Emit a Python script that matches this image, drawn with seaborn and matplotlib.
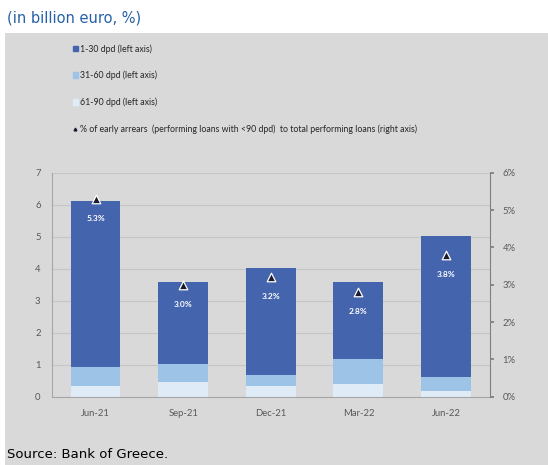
import matplotlib
matplotlib.use("Agg")
import matplotlib.pyplot as plt
import matplotlib.patches as mpatches
from matplotlib.lines import Line2D
from matplotlib.ticker import FuncFormatter
import numpy as np
import pandas as pd
import seaborn as sns

# Early arrears of performing loans by days past due (billion euro)
quarters = ["Jun-21", "Sep-21", "Dec-21", "Mar-22", "Jun-22"]
dpd_1_30 = [5.20, 2.55, 3.35, 2.38, 4.41]
dpd_31_60 = [0.60, 0.57, 0.33, 0.78, 0.43]
dpd_61_90 = [0.32, 0.45, 0.34, 0.41, 0.19]
# Share of early arrears in total performing loans (%)
early_arrears_pct = [5.3, 3.0, 3.2, 2.8, 3.8]

series_labels = ["1-30 dpd (left axis)", "31-60 dpd (left axis)", "61-90 dpd (left axis)",
                 "% of early arrears  (performing loans with <90 dpd)  to total performing loans (right axis)"]

c_dark = "#4464AE"
c_mid = "#9DC3E6"
c_light = "#DFEBF7"
panel = "#D9D9D9"
tick_col = "#595959"

sns.set_theme(style="white")
plt.rcParams["font.family"] = ["Lato", "DejaVu Sans"]

df = pd.DataFrame({"quarter": quarters, "d1": dpd_1_30, "d2": dpd_31_60, "d3": dpd_61_90,
                   "pct": early_arrears_pct})
df["top3"] = df["d3"]
df["top2"] = df["d3"] + df["d2"]
df["top1"] = df["top2"] + df["d1"]

fig = plt.figure(figsize=(5.48, 4.65), dpi=100)
fig.patch.set_facecolor("white")
fig.patches.append(mpatches.Rectangle((5 / 548, 0), 543 / 548, 1 - 33 / 465,
                                      transform=fig.transFigure, facecolor=panel,
                                      edgecolor="none", zorder=-10))

ax = fig.add_axes([0.0943, 0.1469, 0.7998, 0.4817])
ax.set_zorder(2)
ax.set_facecolor(panel)

# stacked bars: cumulative totals drawn back to front
w = 0.57
for col, colr in [("top1", c_dark), ("top2", c_mid), ("top3", c_light)]:
    sns.barplot(data=df, x="quarter", y=col, color=colr, width=w, saturation=1,
                linewidth=0, edgecolor="none", ax=ax, zorder=2)

ax.set_ylim(0, 7)
ax.set_xlim(-0.5, len(quarters) - 0.5)
ax.set_yticks(range(0, 8))
ax.set_xlabel("")
ax.set_ylabel("")
ax.yaxis.grid(True, color="#C6C6C6", linewidth=0.8, zorder=0)
ax.set_axisbelow(True)
for s in ["top", "right"]:
    ax.spines[s].set_visible(False)
for s in ["left", "bottom"]:
    ax.spines[s].set_color("#A6A6A6")
    ax.spines[s].set_linewidth(0.8)
ax.tick_params(axis="both", length=0, labelsize=6.8, labelcolor=tick_col, pad=8)
ax.tick_params(axis="x", pad=9)

ax2 = ax.twinx()
ax2.set_zorder(3)
ax2.set_ylim(0, 6)
ax2.set_yticks(range(0, 7))
ax2.yaxis.set_major_formatter(FuncFormatter(lambda v, p: f"{int(v)}%"))
sns.scatterplot(x=np.arange(len(quarters)), y=early_arrears_pct, marker="^", s=38,
                color="#1A1A2E", edgecolor="white", linewidth=0.9, ax=ax2, zorder=5, legend=False)
for i, v in enumerate(early_arrears_pct):
    ax2.annotate(f"{v:.1f}%", (i, v), xytext=(0, -14), textcoords="offset points",
                 ha="center", va="center", color="white", fontsize=6, fontweight="bold")
for s in ["top", "left", "bottom"]:
    ax2.spines[s].set_visible(False)
ax2.spines["right"].set_color("#7F7F7F")
ax2.spines["right"].set_linewidth(0.8)
ax2.tick_params(axis="y", length=3, color="#7F7F7F", labelsize=6.8, labelcolor=tick_col, pad=6)
ax2.grid(False)

handles = [mpatches.Patch(color=c_dark), mpatches.Patch(color=c_mid), mpatches.Patch(color=c_light),
           Line2D([], [], marker="^", linestyle="none", color="#1A1A2E",
                  markeredgecolor="#1A1A2E", markersize=2)]
leg = fig.legend(handles, series_labels, loc="upper left", bbox_to_anchor=(0.118, 0.922),
                 frameon=False, fontsize=6.3, labelspacing=1.95, handlelength=0.6,
                 handleheight=0.6, handletextpad=0.3, labelcolor="#262626")

fig.text(0.012, 0.962, "(in billion euro, %)", color="#2560A8", fontsize=10.5,
         family=["DejaVu Sans"], va="center", ha="left")
fig.text(0.012, 0.022, "Source: Bank of Greece.", color="black", fontsize=9.5,
         family=["DejaVu Sans"], va="center", ha="left")

fig.savefig("out.png", dpi=100)
